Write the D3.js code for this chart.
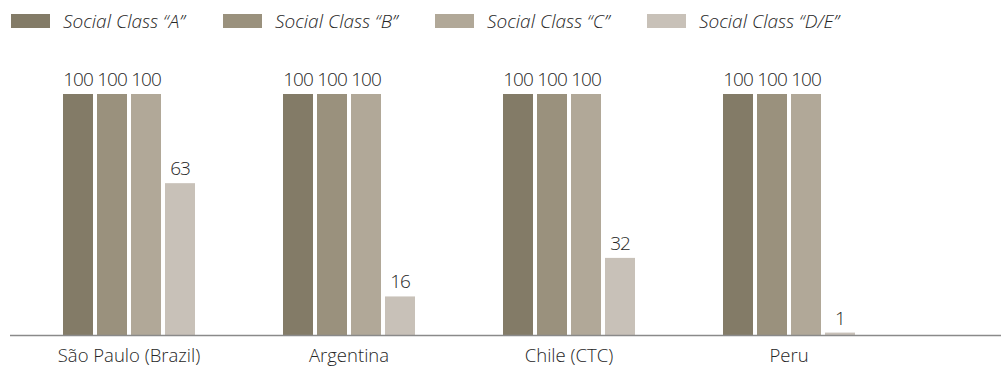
<!DOCTYPE html>
<html>
<head>
<meta charset="utf-8">
<script src="https://cdn.jsdelivr.net/npm/d3@7"></script>
<style>
    body { margin: 0; background: #fff; }
    text { font-family: "Open Sans", sans-serif; fill: #262626; }
</style>
</head>
<body>
<div id="chart"></div>
<script>
// data
const countries = ["São Paulo (Brazil)", "Argentina", "Chile (CTC)", "Peru"];
const classes = ["Social Class “A”", "Social Class “B”", "Social Class “C”", "Social Class “D/E”"];
const classA = [100, 100, 100, 100];
const classB = [100, 100, 100, 100];
const classC = [100, 100, 100, 100];
const classDE = [63, 16, 32, 1];
const colors = ["#837b67", "#9a917d", "#b1a898", "#c8c1b8"];

const width = 1003;
const height = 368;
const baseline = 335;
const plotTop = 94;

const svg = d3.select("#chart")
    .append("svg")
    .attr("width", width)
    .attr("height", height);

const series = [classA, classB, classC, classDE];

const x0 = d3.scaleBand()
    .domain(countries)
    .range([19, 899]);

const x1 = d3.scaleBand()
    .domain(d3.range(classes.length))
    .range([0, 132])
    .paddingInner(4 / 34);

const y = d3.scaleLinear()
    .domain([0, 100])
    .range([baseline, plotTop]);

// legend
const legend = svg.append("g")
    .selectAll("g")
    .data(classes)
    .enter()
    .append("g")
    .attr("transform", (d, i) => "translate(" + (11 + i * 212) + ",14)");

legend.append("rect")
    .attr("width", 39)
    .attr("height", 14)
    .attr("fill", (d, i) => colors[i]);

legend.append("text")
    .attr("x", 52)
    .attr("y", 14)
    .style("font-size", "19px")
    .style("font-style", "italic")
    .style("font-weight", 300)
    .text(d => d);

// bars
const groups = svg.append("g")
    .selectAll("g")
    .data(countries)
    .enter()
    .append("g")
    .attr("transform", d => "translate(" + (x0(d) + x0.bandwidth() / 2 - 66) + ",0)");

const cells = groups.selectAll("g")
    .data((d, ci) => series.map((s, si) => ({ si: si, value: s[ci] })))
    .enter()
    .append("g");

cells.append("rect")
    .attr("x", d => x1(d.si))
    .attr("y", d => y(d.value))
    .attr("width", x1.bandwidth())
    .attr("height", d => baseline - y(d.value))
    .attr("fill", d => colors[d.si]);

cells.append("text")
    .attr("x", d => x1(d.si) + x1.bandwidth() / 2)
    .attr("y", d => y(d.value) - 8)
    .attr("text-anchor", "middle")
    .style("font-size", "19px")
    .style("font-weight", 300)
    .style("letter-spacing", "-1px")
    .text(d => d.value);

// axis
svg.append("line")
    .attr("x1", 10)
    .attr("x2", 1001)
    .attr("y1", baseline + 0.5)
    .attr("y2", baseline + 0.5)
    .attr("stroke", "#8a8a8a")
    .attr("stroke-width", 1.5);

const xAxis = d3.axisBottom(x0).tickSize(0).tickPadding(14);
svg.append("g")
    .attr("transform", "translate(0," + baseline + ")")
    .call(xAxis)
    .call(g => g.select(".domain").remove())
    .selectAll("text")
    .style("font-size", "18.5px")
    .style("font-weight", 300)
    .style("font-family", "\"Open Sans\", sans-serif")
    .attr("fill", "#262626");
</script>
</body>
</html>
